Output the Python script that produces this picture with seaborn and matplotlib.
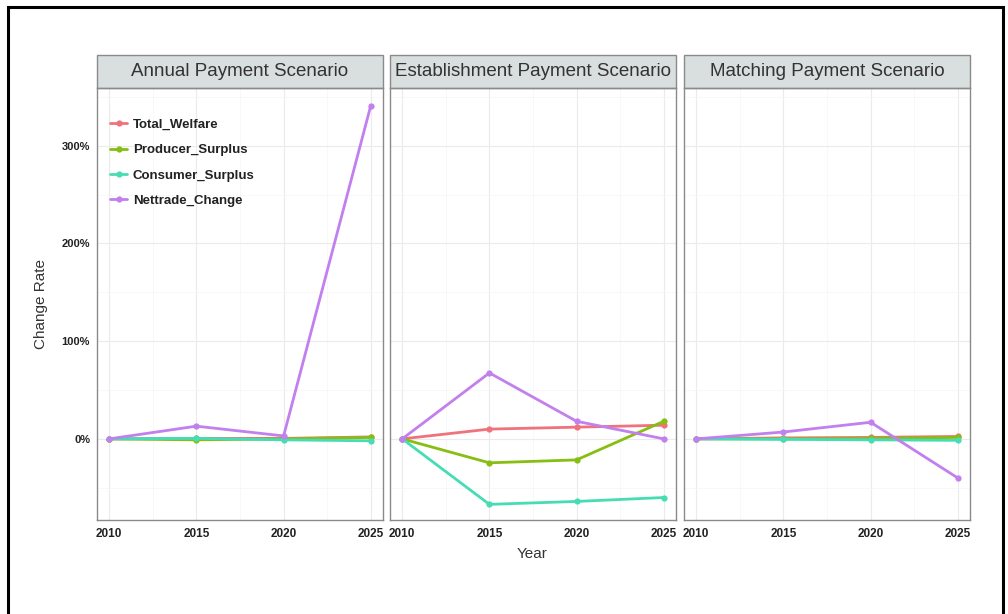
import matplotlib
matplotlib.use("Agg")
import matplotlib.pyplot as plt
from matplotlib.patches import Rectangle
from matplotlib.ticker import FuncFormatter
import numpy as np
import pandas as pd
import seaborn as sns

years = [2010, 2015, 2020, 2025]
scenarios = ["Annual Payment Scenario", "Establishment Payment Scenario", "Matching Payment Scenario"]
variables = ["Total_Welfare", "Producer_Surplus", "Consumer_Surplus", "Nettrade_Change"]

# change rates in percent, one list per scenario and variable
annual_total = [0, 0.5, 0.5, 2]
annual_producer = [0, -1, 0, 1.5]
annual_consumer = [0, 0.5, -1, -2]
annual_nettrade = [0, 13, 3, 341]

estab_total = [0, 10, 12, 14]
estab_producer = [0, -24.5, -21.5, 18]
estab_consumer = [0, -67, -64, -60]
estab_nettrade = [0, 67.5, 18, 0]

match_total = [0, 1, 1.5, 2.5]
match_producer = [0, 0, 0.5, 1.5]
match_consumer = [0, -0.5, -1, -1.5]
match_nettrade = [0, 7, 17, -40]

series = {
    scenarios[0]: [annual_total, annual_producer, annual_consumer, annual_nettrade],
    scenarios[1]: [estab_total, estab_producer, estab_consumer, estab_nettrade],
    scenarios[2]: [match_total, match_producer, match_consumer, match_nettrade],
}

rows = []
for sc, vals in series.items():
    for var, v in zip(variables, vals):
        for y, val in zip(years, v):
            rows.append({"Scenario": sc, "Variable": var, "Year": y, "Rate": val})
df = pd.DataFrame(rows)

palette = {
    "Total_Welfare": "#F0727C",
    "Producer_Surplus": "#86BE12",
    "Consumer_Surplus": "#46DDB4",
    "Nettrade_Change": "#C27FEE",
}

sns.set_style("white")
plt.rcParams["font.family"] = ["Liberation Sans", "DejaVu Sans"]

fig = plt.figure(figsize=(10.08, 6.14), dpi=100)
W, H = 1008, 614
panel_left = [97, 390, 684]
panel_w = 286
top_px, bot_px = 88, 520

axes = []
for i, sc in enumerate(scenarios):
    ax = fig.add_axes([panel_left[i] / W, 1 - bot_px / H, panel_w / W, (bot_px - top_px) / H])
    axes.append(ax)
    sub = df[df["Scenario"] == sc]
    sns.lineplot(data=sub, x="Year", y="Rate", hue="Variable", hue_order=variables,
                 palette=palette, marker="o", markersize=4.5, markeredgewidth=0,
                 linewidth=2.0, ax=ax, legend=(i == 0))
    ax.set_xlim(2009.3, 2025.7)
    ax.set_ylim(-83, 359)
    ax.set_xticks(years)
    ax.set_xticklabels([str(y) for y in years], fontsize=8.5, fontweight="bold", color="#222222")
    ax.set_yticks([0, 100, 200, 300])
    ax.set_xticks([2012.5, 2017.5, 2022.5], minor=True)
    ax.set_yticks([-50, 50, 150, 250, 350], minor=True)
    ax.grid(True, which="major", color="#EBEBEB", linewidth=0.8)
    ax.grid(True, which="minor", color="#F5F5F5", linewidth=0.5)
    ax.set_axisbelow(True)
    for s in ax.spines.values():
        s.set_color("#8A8A8A")
        s.set_linewidth(1.0)
    ax.tick_params(axis="x", which="major", length=3, color="#666666", pad=2.5)
    ax.tick_params(which="minor", length=0)
    if i == 0:
        ax.yaxis.set_major_formatter(FuncFormatter(lambda v, p: f"{v:.0f}%"))
        for t in ax.get_yticklabels():
            t.set_fontsize(8)
            t.set_fontweight("bold")
            t.set_color("#222222")
        ax.tick_params(axis="y", which="major", length=3, color="#666666", pad=2)
        ax.set_ylabel("Change Rate", fontsize=11, color="#333333", labelpad=10)
    else:
        ax.set_yticklabels([])
        ax.tick_params(axis="y", which="major", length=0)
        ax.set_ylabel("")
    ax.set_xlabel("")

    # facet strip above the panel
    strip_h = 33 / (bot_px - top_px)
    ax.add_patch(Rectangle((0, 1), 1, strip_h, transform=ax.transAxes, clip_on=False,
                           facecolor="#D9DEDE", edgecolor="#8A8A8A", linewidth=1.0))
    ax.text(0.5, 1 + strip_h / 2, sc, transform=ax.transAxes, ha="center", va="center",
            fontsize=13.5, color="#333333")

leg = axes[0].legend(loc="upper left", bbox_to_anchor=(0.0, 0.96), frameon=False,
                     handlelength=1.3, handletextpad=0.4, labelspacing=1.0,
                     prop={"size": 9.5, "weight": "bold"}, borderaxespad=0.6)
for t in leg.get_texts():
    t.set_color("#222222")

fig.text(532 / W, 1 - 554 / H, "Year", ha="center", va="center", fontsize=11, color="#333333")

# outer frame
fig.add_artist(Rectangle((8 / W, -0.05), (1003 - 8) / W, 1 - 7 / H + 0.05,
                         transform=fig.transFigure, fill=False, edgecolor="black", linewidth=2.2))

fig.savefig("out.png", dpi=100)
